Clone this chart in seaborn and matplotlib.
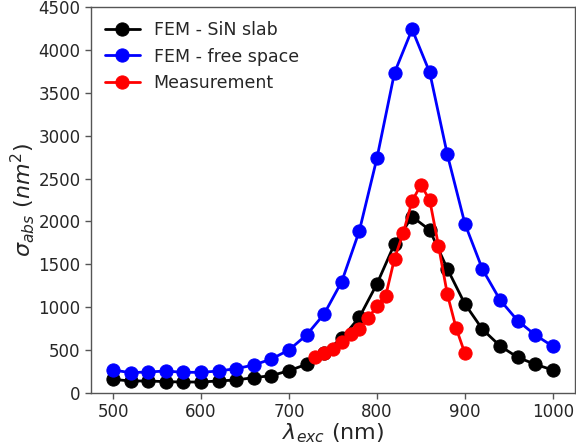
import matplotlib
matplotlib.use("Agg")
import matplotlib.pyplot as plt
import seaborn as sns
import pandas as pd

# Data
wl_fem = [500, 520, 540, 560, 580, 600, 620, 640, 660, 680, 700, 720, 740,
          760, 780, 800, 820, 840, 860, 880, 900, 920, 940, 960, 980, 1000]
sin_slab = [159, 140, 140, 132, 128, 128, 140, 152, 179, 202, 260, 334, 470,
            637, 882, 1271, 1737, 2056, 1900, 1449, 1038, 742, 548, 416, 334, 268]
free_space = [268, 237, 245, 256, 241, 241, 256, 284, 326, 396, 501, 676, 921,
              1298, 1889, 2736, 3734, 4240, 3738, 2782, 1974, 1442, 1084, 843, 676, 544]
wl_meas = [730, 740, 750, 760, 770, 780, 790, 800, 810, 820, 830, 840, 850,
           860, 870, 880, 890, 900]
measurement = [416, 462, 513, 591, 688, 742, 871, 1014, 1135, 1566, 1869, 2238,
               2425, 2250, 1717, 1154, 758, 462]

series = [
    ("FEM - SiN slab", wl_fem, sin_slab, "black"),
    ("FEM - free space", wl_fem, free_space, "blue"),
    ("Measurement", wl_meas, measurement, "red"),
]

sns.set_style("white")
plt.rcParams['font.family'] = ['DejaVu Sans']
plt.rcParams['mathtext.fontset'] = 'dejavusans'

fig = plt.figure(figsize=(5.76, 4.48), dpi=100)
ax = fig.add_axes([0.158, 0.1228, 0.840, 0.8616])

for name, x, y, c in series:
    df = pd.DataFrame({"x": x, "y": y})
    sns.lineplot(data=df, x="x", y="y", ax=ax, color=c, marker="o",
                 markersize=9.5, markeredgecolor=c, linewidth=2, label=name)

ax.set_xlim(475, 1025)
ax.set_ylim(0, 4500)
ax.set_xticks([500, 600, 700, 800, 900, 1000])
ax.set_yticks(range(0, 4501, 500))
ax.tick_params(axis="both", labelsize=12, length=4, width=1, color="#555555",
               direction="out", bottom=True, left=True)
for s in ax.spines.values():
    s.set_color("#555555")
    s.set_linewidth(1)

ax.set_xlabel(r"$\lambda_{exc}$ (nm)", fontsize=16, labelpad=0)
ax.set_ylabel(r"$\sigma_{abs}$ $(nm^2)$", fontsize=16, labelpad=1)

leg = ax.legend(loc="upper left", frameon=False, fontsize=12.5,
                handlelength=2, borderaxespad=0.4)

fig.savefig("out.png", dpi=100)
